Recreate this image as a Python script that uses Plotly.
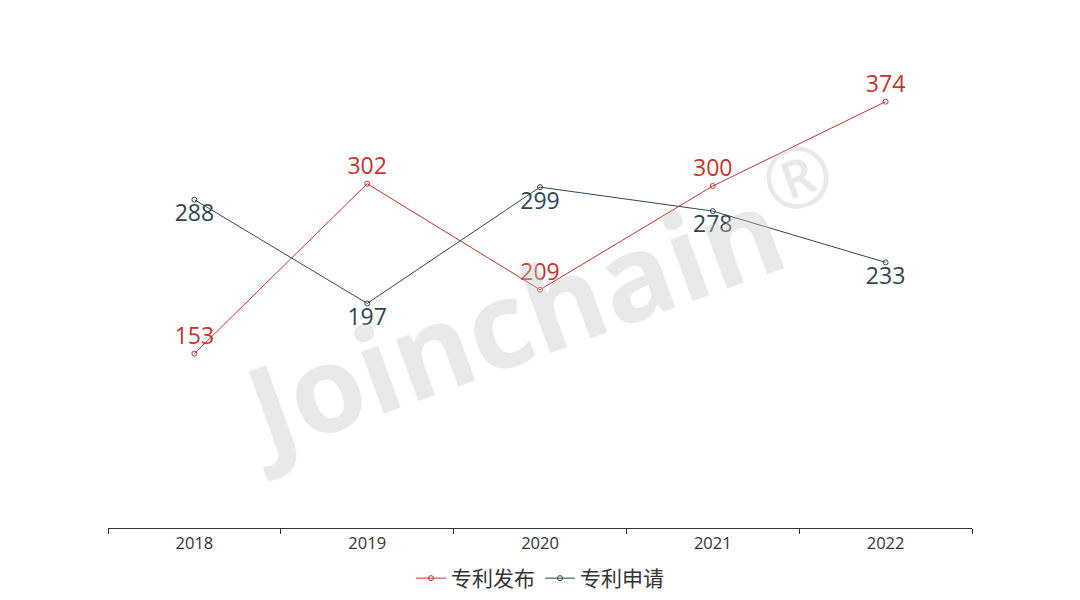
import plotly.graph_objects as go

years = ["2018", "2019", "2020", "2021", "2022"]
publish = [153, 302, 209, 300, 374]
apply_ = [288, 197, 299, 278, 233]

fig = go.Figure()
fig.add_trace(go.Scatter(x=years, y=publish, name="专利发布", mode="lines+markers+text",
    text=[str(v) for v in publish], textposition="top center",
    textfont=dict(size=23, color="#c23531", family="Open Sans"),
    line=dict(color="#c23531", width=1),
    marker=dict(symbol="circle-open", size=5, color="#c23531", line=dict(width=1))))
fig.add_trace(go.Scatter(x=years, y=apply_, name="专利申请", mode="lines+markers+text",
    text=[str(v) for v in apply_], textposition="bottom center",
    textfont=dict(size=23, color="#2f4554", family="Open Sans"),
    line=dict(color="#2f4554", width=1),
    marker=dict(symbol="circle-open", size=5, color="#2f4554", line=dict(width=1))))

fig.add_annotation(text="<b>Joinchain</b><sup>®</sup>", xref="paper", yref="paper", x=0.5, y=0.5,
    showarrow=False, textangle=-20, font=dict(size=120, color="rgba(200,200,200,0.4)",
    family="Open Sans"))

fig.update_layout(
    width=1080, height=600, paper_bgcolor="white", plot_bgcolor="white",
    margin=dict(l=100, r=116, t=64, b=80, autoexpand=False),
    font=dict(family="Open Sans, Noto Sans CJK SC", color="#333"),
    xaxis=dict(type="category", range=[-0.5, 4.5], showgrid=False, showline=True,
        linecolor="#333", ticks="outside", ticklen=5, tickcolor="#333",
        tickson="boundaries", tickfont=dict(size=16.5, color="#333"), automargin=False),
    yaxis=dict(range=[0, 400], visible=False, automargin=False),
    legend=dict(orientation="h", x=0.5, xanchor="center", yref="container", y=0.015, yanchor="bottom",
        font=dict(size=21, color="#333", family="Noto Sans CJK SC")),
    showlegend=True,
)
fig.write_html("out.html")
